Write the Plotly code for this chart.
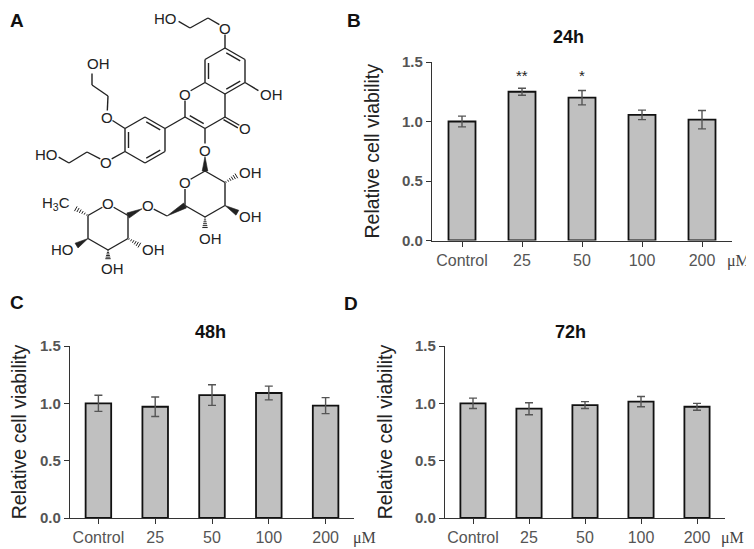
import math
import plotly.graph_objects as go

# the page body has an 8px margin, so the figure is drawn 8px smaller and
# every reference pixel position is shifted by that offset
OFF = 8
W, H = 754 - OFF, 549 - OFF

# ---- data ----
doses = ["Control", "25", "50", "100", "200"]
via_24h = [1.00, 1.25, 1.20, 1.056, 1.015]
err_24h = [0.045, 0.03, 0.06, 0.04, 0.077]
via_48h = [1.00, 0.97, 1.072, 1.09, 0.98]
err_48h = [0.07, 0.085, 0.09, 0.06, 0.07]
via_72h = [1.00, 0.953, 0.985, 1.015, 0.97]
err_72h = [0.045, 0.052, 0.03, 0.045, 0.03]
y_ticks = [0, 0.5, 1.0, 1.5]
y_ticktext = ["0.0", "0.5", "1.0", "1.5"]
# significance marks for 24h (category index, height, text)
sig_24h = [(1, 1.39, "**"), (2, 1.39, "*")]

BAR_FILL = "#c0c0c0"
AX = "#333333"
TICKC = "#555555"


def px(x):
    return (x - OFF) / W


def py(y):
    return 1 - (y - OFF) / H


fig = go.Figure()

panels = [
    ("x", "y", via_24h, err_24h),
    ("x2", "y2", via_48h, err_48h),
    ("x3", "y3", via_72h, err_72h),
]
for xa, ya, v, e in panels:
    fig.add_trace(go.Bar(
        x=doses, y=v, xaxis=xa, yaxis=ya, width=0.45,
        marker=dict(color=BAR_FILL, line=dict(color="#111111", width=1.8)),
        error_y=dict(type="data", array=e, color="#555555", thickness=1.4, width=4),
        showlegend=False, hoverinfo="skip",
    ))

xcommon = dict(type="category", range=[-0.5, 4.5], showline=True, linecolor=AX,
               linewidth=1.2, ticks="outside", ticklen=5, tickcolor=AX, showgrid=False,
               tickfont=dict(family="Liberation Sans", size=16, color=TICKC),
               zeroline=False, fixedrange=True, automargin=False)
ycommon = dict(range=[0, 1.5], tickvals=y_ticks, ticktext=y_ticktext,
               showline=True, linecolor=AX, linewidth=1.2, ticks="outside",
               ticklen=5, tickcolor=AX, showgrid=False, zeroline=False, automargin=False,
               tickfont=dict(family="Liberation Sans", size=15, color=TICKC, weight="bold"),
               title=dict(text="Relative cell viability", standoff=17,
                          font=dict(family="Liberation Sans", size=19.5, color="#222222")))

fig.update_layout(
    width=W, height=H, margin=dict(l=0, r=0, t=0, b=0, autoexpand=False),
    paper_bgcolor="white", plot_bgcolor="white",
    xaxis=dict(xcommon, domain=[px(432), px(732)], anchor="y"),
    yaxis=dict(ycommon, domain=[py(240.5), py(62)], anchor="x"),
    xaxis2=dict(xcommon, domain=[px(70), px(354)], anchor="y2"),
    yaxis2=dict(ycommon, domain=[py(518), py(346)], anchor="x2"),
    xaxis3=dict(xcommon, domain=[px(445), px(725)], anchor="y3"),
    yaxis3=dict(ycommon, domain=[py(518), py(346)], anchor="x3"),
)

ann = []
for xi, yv, t in sig_24h:
    ann.append(dict(x=xi, y=yv, xref="x", yref="y", text=t, showarrow=False,
                    xanchor="center", yanchor="middle",
                    font=dict(family="Liberation Sans", size=15, color="#222")))
# panel titles
for t, x, y in [("24h", 568, 37), ("48h", 210, 332), ("72h", 570, 332)]:
    ann.append(dict(x=px(x), y=py(y), xref="paper", yref="paper", text="<b>%s</b>" % t,
                    xanchor="center", yanchor="middle", showarrow=False,
                    font=dict(family="Liberation Sans", size=18, color="#111")))
# unit labels
for x, y in [(738, 261), (364, 538), (732, 538)]:
    ann.append(dict(x=px(x), y=py(y), xref="paper", yref="paper", text="μM",
                    xanchor="center", yanchor="middle", showarrow=False,
                    font=dict(family="Liberation Serif", size=16, color="#444")))
# panel letters (A, B and C sit against the edges of the figure)
for t, x, y, xa, ya in [("A", 8, 8, "left", "top"), ("B", 354, 8, "center", "top"),
                        ("C", 8, 302, "left", "middle"), ("D", 351, 303, "center", "middle")]:
    ann.append(dict(x=px(x), y=py(y), xref="paper", yref="paper", text="<b>%s</b>" % t,
                    xanchor=xa, yanchor=ya, showarrow=False,
                    font=dict(family="Liberation Sans", size=19, color="#111")))

# ---- panel A: structure drawing (pixel positions of the illustration) ----
P = {
    # ring A
    "a7": (225, 48), "a6": (245, 59.5), "a5": (245, 82.5), "a4a": (225, 94),
    "a8a": (205, 82.5), "a8": (205, 59.5),
    # ring C
    "c4": (225, 117), "c3": (205, 128.5), "c2": (185, 117), "o1": (185, 94),
    "oc4": (245, 128.5), "o5": (264, 94), "o7": (225, 28),
    "k1": (208, 18), "k2": (190, 28), "o7h": (173, 18),
    # ring B
    "b1": (165, 128.5), "b2": (165, 151.5), "b3": (145, 163), "b4": (125, 151.5),
    "b5": (125, 128.5), "b6": (145, 117),
    "o3p": (107, 117), "m1": (108, 96), "m2": (92, 85), "m3": (92, 67),
    "o4p": (106, 162), "n1": (87, 152), "n2": (69, 163), "n3": (53, 154),
    # glucose
    "o3": (205, 150), "g1": (205, 171), "g2": (225, 182.5), "g3": (225, 205.5),
    "g4": (205, 217), "g5": (185, 205.5), "go": (185, 182.5),
    "g2o": (243, 172), "g3o": (243, 216), "g4o": (205, 235),
    "g6": (167, 216), "og": (148, 206),
    # rhamnose
    "r1": (128, 215.5), "r2": (128, 238.5), "r3": (108, 250), "r4": (88, 238.5),
    "r5": (88, 215.5), "ro": (108, 204),
    "me": (69, 205), "r2o": (146, 249), "r3o": (108, 266), "r4o": (71, 249),
}
labelled = {"o1", "oc4", "o5", "o7", "o7h", "o3p", "m3", "o4p", "n3", "o3", "go",
            "g2o", "g3o", "g4o", "og", "ro", "me", "r2o", "r3o", "r4o"}

single = [("a7", "a8"), ("a8a", "a4a"), ("a5", "a6"), ("a8a", "o1"), ("o1", "c2"),
          ("c3", "c4"), ("c4", "a4a"), ("a5", "o5"), ("a7", "o7"), ("o7", "k1"),
          ("k1", "k2"), ("k2", "o7h"), ("c2", "b1"), ("b1", "b2"), ("b3", "b4"),
          ("b5", "b6"), ("b5", "o3p"), ("o3p", "m1"), ("m1", "m2"), ("m2", "m3"),
          ("b4", "o4p"), ("o4p", "n1"), ("n1", "n2"), ("n2", "n3"), ("c3", "o3"),
          ("g1", "g2"), ("g2", "g3"), ("g3", "g4"), ("g4", "g5"), ("g5", "go"),
          ("go", "g1"), ("g6", "og"), ("r1", "r2"), ("r2", "r3"), ("r3", "r4"),
          ("r4", "r5"), ("r5", "ro"), ("ro", "r1")]
# double bonds: (a, b, ring centre or None for a plain parallel line)
double = [("a8", "a8a", (225, 71)), ("a4a", "a5", (225, 71)), ("a6", "a7", (225, 71)),
          ("c2", "c3", (205, 105.5)), ("b5", "b4", (145, 140)),
          ("b2", "b3", (145, 140)), ("b1", "b6", (145, 140)), ("c4", "oc4", None)]
wedges = [("o3", "g1"), ("g3", "g3o"), ("g6", "g5"), ("og", "r1"), ("r4", "r4o")]
hashes = [("g2", "g2o"), ("g4", "g4o"), ("r5", "me"), ("r2", "r2o"), ("r3", "r3o")]

shapes = []
LC = "#222222"


def trimmed(a, b):
    (x1, y1), (x2, y2) = P[a], P[b]
    d = math.hypot(x2 - x1, y2 - y1)
    ux, uy = (x2 - x1) / d, (y2 - y1) / d
    if a in labelled:
        x1, y1 = x1 + ux * 6.5, y1 + uy * 6.5
    if b in labelled:
        x2, y2 = x2 - ux * 6.5, y2 - uy * 6.5
    return x1, y1, x2, y2, ux, uy


def seg(x1, y1, x2, y2, w=1.4):
    shapes.append(dict(type="line", xref="paper", yref="paper", x0=px(x1), y0=py(y1),
                       x1=px(x2), y1=py(y2), line=dict(color=LC, width=w)))


for a, b in single:
    x1, y1, x2, y2, _, _ = trimmed(a, b)
    seg(x1, y1, x2, y2)

for a, b, cen in double:
    x1, y1, x2, y2, ux, uy = trimmed(a, b)
    seg(x1, y1, x2, y2)
    nx, ny = -uy, ux
    if cen is not None:
        mx, my = (x1 + x2) / 2, (y1 + y2) / 2
        if (cen[0] - mx) * nx + (cen[1] - my) * ny < 0:
            nx, ny = -nx, -ny
        seg(x1 + nx * 3.5 + ux * 3.5, y1 + ny * 3.5 + uy * 3.5,
            x2 + nx * 3.5 - ux * 3.5, y2 + ny * 3.5 - uy * 3.5)
    else:
        seg(x1 + nx * 3, y1 + ny * 3, x2 + nx * 3, y2 + ny * 3)

for a, b in wedges:
    x1, y1, x2, y2, ux, uy = trimmed(a, b)
    nx, ny = -uy, ux
    path = "M %f %f L %f %f L %f %f Z" % (
        px(x1), py(y1), px(x2 + nx * 2.8), py(y2 + ny * 2.8), px(x2 - nx * 2.8), py(y2 - ny * 2.8))
    shapes.append(dict(type="path", xref="paper", yref="paper", path=path,
                       fillcolor=LC, line=dict(color=LC, width=0.6)))

for a, b in hashes:
    x1, y1, x2, y2, ux, uy = trimmed(a, b)
    nx, ny = -uy, ux
    n = 6
    for i in range(n):
        t = (i + 0.5) / n
        cx, cy = x1 + (x2 - x1) * t, y1 + (y2 - y1) * t
        h = 0.5 + 2.4 * t
        seg(cx - nx * h, cy - ny * h, cx + nx * h, cy + ny * h, w=1.0)

fig.update_layout(shapes=shapes)

# atom labels
atom_labels = [
    ("HO", 165, 18), ("O", 225, 28), ("OH", 271, 94), ("O", 185, 94), ("O", 245, 128.5),
    ("OH", 98, 64), ("O", 107, 117), ("HO", 46, 154), ("O", 106, 162), ("O", 205, 150),
    ("O", 185, 182.5), ("OH", 250, 172), ("OH", 250, 216), ("OH", 210, 238),
    ("O", 148, 206), ("O", 108, 204), ("H<sub>3</sub>C", 56, 204), ("HO", 62, 249),
    ("OH", 153, 249), ("OH", 112, 268),
]
for t, x, y in atom_labels:
    ann.append(dict(x=px(x), y=py(y), xref="paper", yref="paper", text=t, showarrow=False,
                    xanchor="center", yanchor="middle",
                    font=dict(family="Liberation Sans", size=15, color=LC)))

fig.update_layout(annotations=ann)
fig.write_html("out.html")
